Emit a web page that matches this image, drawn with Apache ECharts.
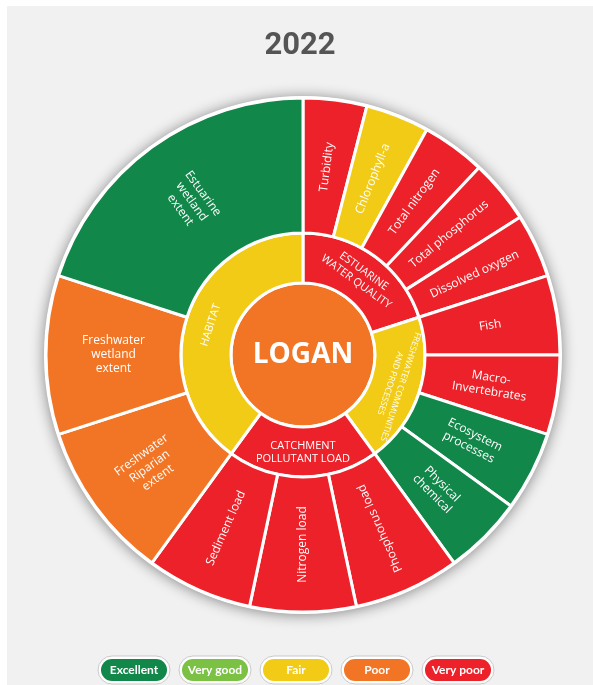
<!DOCTYPE html>
<html>
<head>
<meta charset="utf-8">
<script src="https://cdn.jsdelivr.net/npm/echarts@6/dist/echarts.min.js"></script>
<style>
  html, body { margin: 0; padding: 0; background: #ffffff; }
  #chart { position: absolute; left: 7px; top: 6px; width: 586px; height: 679px; background: #f1f1f1; }
</style>
</head>
<body>
<div id="chart"></div>
<script>
const GRADE_COLORS = {
  "Excellent": "#12874a",
  "Very good": "#7bc143",
  "Fair": "#f2cb17",
  "Poor": "#f17524",
  "Very poor": "#ec2129",
};

// data, clockwise from 12 o'clock
const catchmentName = "LOGAN";
const catchmentGrade = "Poor";
const groups = [
  "ESTUARINE\nWATER QUALITY",
  "FRESHWATER COMMUNITIES\nAND PROCESSES",
  "CATCHMENT\nPOLLUTANT LOAD",
  "HABITAT",
];
const groupGrades = ["Very poor", "Fair", "Very poor", "Fair"];
const indicators = [
  ["Turbidity", "Chlorophyll-a", "Total nitrogen", "Total phosphorus", "Dissolved oxygen"],
  ["Fish", "Macro-\nInvertebrates", "Ecosystem\nprocesses", "Physical\nchemical"],
  ["Phosphorus load", "Nitrogen load", "Sediment load"],
  ["Freshwater\nRiparian\nextent", "Freshwater\nwetland\nextent", "Estuarine\nwetland\nextent"],
];
const indicatorGrades = [
  ["Very poor", "Fair", "Very poor", "Very poor", "Very poor"],
  ["Very poor", "Very poor", "Excellent", "Excellent"],
  ["Very poor", "Very poor", "Very poor"],
  ["Poor", "Poor", "Excellent"],
];
const indicatorWeights = [
  [12, 12, 12, 12, 12],
  [15, 15, 15, 15],
  [20, 20, 20],
  [30, 30, 60],
];
const legendItems = ["Excellent", "Very good", "Fair", "Poor", "Very poor"];

// label orientation tweaks (the original keeps some labels unflipped)
const labelTweaks = {
  "FRESHWATER COMMUNITIES\nAND PROCESSES": { rotate: -108, fontSize: 8.5, lineHeight: 11 },
  "Phosphorus load": { rotate: 114 },
  "Nitrogen load": { rotate: 90 },
  "Sediment load": { rotate: 66 },
};

const FONT = "'Open Sans', sans-serif";
const CENTER = [296, 349];
const CORE_R = 72;

function node(name, grade, extra = {}) {
  return {
    name,
    itemStyle: { color: GRADE_COLORS[grade] },
    label: labelTweaks[name] ? { ...labelTweaks[name] } : undefined,
    ...extra,
  };
}

const seriesData = [
  node(catchmentName, catchmentGrade, {
    children: groups.map((g, i) =>
      node(g, groupGrades[i], {
        children: indicators[i].map((name, j) =>
          node(name, indicatorGrades[i][j], { value: indicatorWeights[i][j] })
        ),
      })
    ),
  }),
];

function legendGraphics() {
  const startX = 91;
  const step = 81;
  const y = 650;
  return legendItems.map((name, i) => ({
    type: "group",
    x: startX + i * step,
    y,
    children: [
      {
        type: "rect",
        shape: { x: 0, y: 0, width: 72, height: 28, r: 14 },
        style: { fill: "#ffffff", stroke: "#c9c9c9", lineWidth: 1 },
      },
      {
        type: "rect",
        shape: { x: 3, y: 3, width: 66, height: 22, r: 11 },
        style: { fill: GRADE_COLORS[name] },
      },
      {
        type: "text",
        x: 36,
        y: 14,
        style: {
          text: name,
          fill: "#ffffff",
          font: "bold 12px Lato, sans-serif",
          align: "center",
          verticalAlign: "middle",
        },
      },
    ],
  }));
}

const chart = echarts.init(document.getElementById("chart"));
chart.setOption({
  animation: false,
  title: {
    text: "2022",
    left: "center",
    top: 20,
    textStyle: { fontSize: 31, fontWeight: "bold", color: "#555555", fontFamily: "Roboto, sans-serif" },
  },
  graphic: [
    {
      type: "circle",
      z: 0,
      shape: { cx: CENTER[0], cy: CENTER[1], r: 259 },
      style: { fill: "#ffffff", shadowBlur: 14, shadowColor: "rgba(0,0,0,0.45)", shadowOffsetY: 1 },
    },
    ...legendGraphics(),
  ],
  series: [
    {
      type: "sunburst",
      center: CENTER,
      radius: [0, 257],
      sort: null,
      nodeClick: false,
      emphasis: { disabled: true },
      itemStyle: { borderColor: "#ffffff", borderWidth: 3 },
      label: { color: "#ffffff", fontFamily: FONT, fontSize: 12, lineHeight: 14 },
      levels: [
        {},
        {
          r0: 0,
          r: CORE_R,
          // the full-circle label anchors half a radius below centre;
          // a tall bottom-aligned line box lifts it back to the middle
          label: {
            rotate: 0,
            fontSize: 28,
            fontWeight: "bold",
            fontFamily: FONT,
            verticalAlign: "bottom",
            lineHeight: CORE_R,
          },
        },
        {
          r0: CORE_R,
          r: 122,
          label: { rotate: "tangential", fontSize: 11, lineHeight: 13 },
        },
        {
          r0: 122,
          r: 257,
          label: { rotate: "radial", fontSize: 12, lineHeight: 14 },
        },
      ],
      data: seriesData,
    },
  ],
});
</script>
</body>
</html>
